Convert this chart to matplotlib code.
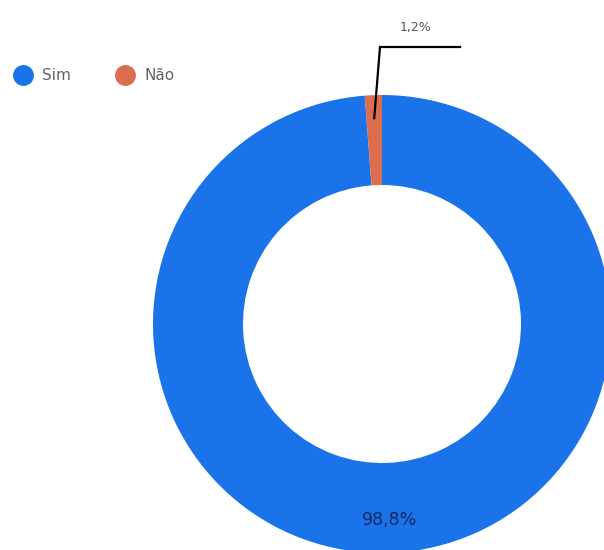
import numpy as np
import matplotlib
matplotlib.use('Agg')
import matplotlib.pyplot as plt

categories = ['Sim', 'Não']
values = [98.8, 1.2]
colors = ['#1a73e8', '#dc6e4f']
pct_labels = ['98,8%', '1,2%']

plt.rcParams['font.family'] = ['DejaVu Sans']

W, H = 604, 550
fig = plt.figure(figsize=(W / 100, H / 100), dpi=100)
ax = fig.add_axes([0, 0, 1, 1])

cx, cy = 382, H - 324
R_out, R_in = 229, 139

wedges, _ = ax.pie(values, colors=colors, startangle=90, counterclock=False,
                   radius=R_out, center=(cx, cy),
                   wedgeprops=dict(width=R_out - R_in, edgecolor='none', linewidth=0))

ax.set_xlim(0, W)
ax.set_ylim(0, H)
ax.set_aspect('equal')
ax.axis('off')

# big slice label inside the ring
w = wedges[0]
mid = np.deg2rad((w.theta1 + w.theta2) / 2)
ax.text(cx + 196 * np.cos(mid), cy + 196 * np.sin(mid), pct_labels[0],
        ha='center', va='center', fontsize=12.5, color='#0f2d63')

# small slice label with leader line
w = wedges[1]
mid = np.deg2rad((w.theta1 + w.theta2) / 2)
x0, y0 = cx + 206 * np.cos(mid), cy + 206 * np.sin(mid)
ax.plot([x0, 380, 460], [y0, H - 47, H - 47], color='black', lw=1.6,
        solid_joinstyle='miter')
ax.text(416, H - 28, pct_labels[1], ha='center', va='center',
        fontsize=9, color='#555555')

# legend
leg_x = [23, 125]
for x, c, name in zip(leg_x, colors, categories):
    ax.plot([x], [H - 75], marker='o', markersize=14, color=c, linestyle='none')
    ax.text(x + 19, H - 76, name, ha='left', va='center', fontsize=11,
            color='#5f6368')

fig.savefig('out.png', dpi=100)
